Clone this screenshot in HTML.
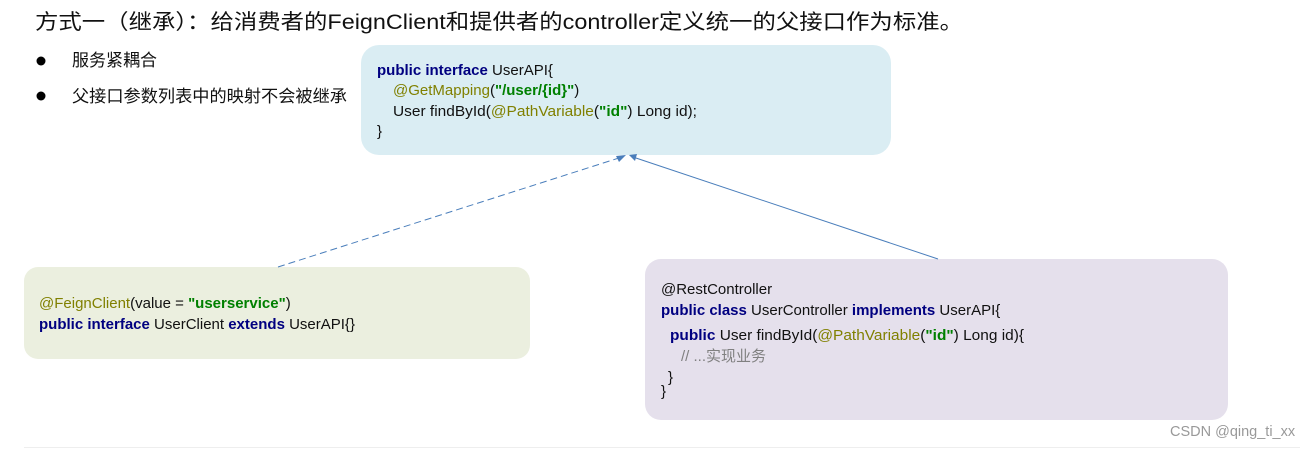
<!DOCTYPE html>
<html><head><meta charset="utf-8"><style>
body{margin:0;background:#fff;width:1315px;height:449px;overflow:hidden}
svg{display:block}
text{font-family:"Liberation Sans","Noto Sans CJK SC",sans-serif;font-size:15px;fill:#111}
.k{fill:#000080;font-weight:bold}
.a{fill:#808000}
.s{fill:#008000;font-weight:bold}
.c{fill:#808080}
</style></head><body>
<svg width="1315" height="449" viewBox="0 0 1315 449">
<text x="35" y="29" style="font-size:21px" textLength="928" lengthAdjust="spacingAndGlyphs">方式一（继承）：给消费者的FeignClient和提供者的controller定义统一的父接口作为标准。</text>
<circle cx="41" cy="61" r="4.5" fill="#000"/>
<circle cx="41" cy="96" r="4.5" fill="#000"/>
<text x="72" y="66" style="font-size:17px">服务紧耦合</text>
<text x="72" y="102" style="font-size:17px" textLength="275" lengthAdjust="spacingAndGlyphs">父接口参数列表中的映射不会被继承</text>

<rect x="361" y="45" width="530" height="110" rx="18" fill="#daedf3"/>
<text x="377" y="75"><tspan class="k">public interface</tspan> UserAPI{</text>
<text x="393" y="95"><tspan class="a">@GetMapping</tspan>(<tspan class="s">"/user/{id}"</tspan>)</text>
<text x="393" y="116" textLength="304" lengthAdjust="spacingAndGlyphs">User findById(<tspan class="a">@PathVariable</tspan>(<tspan class="s">"id"</tspan>) Long id);</text>
<text x="377" y="136">}</text>

<rect x="24" y="267" width="506" height="92" rx="14" fill="#ebefdf"/>
<text x="39" y="308"><tspan class="a">@FeignClient</tspan>(value = <tspan class="s">"userservice"</tspan>)</text>
<text x="39" y="329"><tspan class="k">public interface</tspan> UserClient <tspan class="k">extends</tspan> UserAPI{}</text>

<rect x="645" y="259" width="583" height="161" rx="16" fill="#e5e0ec"/>
<text x="661" y="294">@RestController</text>
<text x="661" y="315"><tspan class="k">public class</tspan> UserController <tspan class="k">implements</tspan> UserAPI{</text>
<text x="670" y="340" textLength="354" lengthAdjust="spacingAndGlyphs"><tspan class="k">public</tspan> User findById(<tspan class="a">@PathVariable</tspan>(<tspan class="s">"id"</tspan>) Long id){</text>
<text x="681" y="361" class="c">// ...实现业务</text>
<text x="668" y="382">}</text>
<text x="661" y="396">}</text>

<line x1="278" y1="267" x2="622" y2="157" stroke="#4a7ebb" stroke-width="1" stroke-dasharray="7,4"/>
<polygon points="626,155 616,156 619,162" fill="#4a7ebb"/>
<line x1="938" y1="259" x2="633" y2="157" stroke="#4a7ebb" stroke-width="1"/>
<polygon points="629,155 637,154 635,161" fill="#4a7ebb"/>

<line x1="24" y1="447.5" x2="1300" y2="447.5" stroke="#eeeeee"/>
<text x="1170" y="436" style="font-size:14.5px;fill:#999">CSDN @qing_ti_xx</text>
</svg>
</body></html>
